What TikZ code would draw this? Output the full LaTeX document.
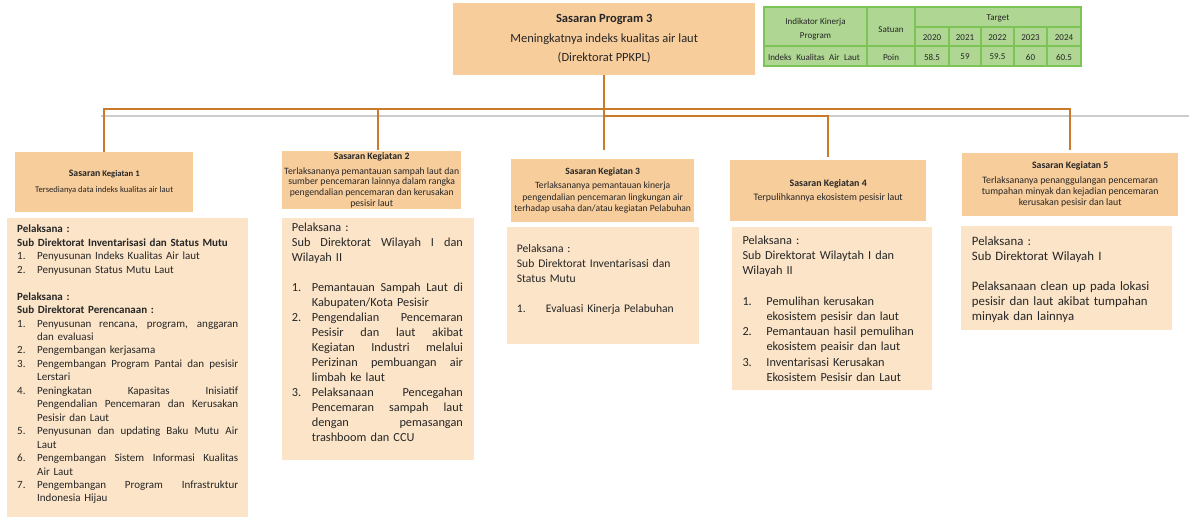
\documentclass[tikz,border=0pt]{standalone}
\usepackage{fontspec}
\setmainfont{Carlito}
\usetikzlibrary{calc}

\definecolor{peach}{HTML}{F8CD9C}
\definecolor{cream}{HTML}{FBE4C8}
\definecolor{wire}{HTML}{CB7A2A}
\definecolor{rulegray}{HTML}{CCCCCC}
\definecolor{tfill}{HTML}{AFD693}
\definecolor{tline}{HTML}{7CC456}
\definecolor{ink}{HTML}{262626}

\newcommand\setfs[2]{\fontsize{#1bp}{#2bp}\selectfont}
\newcommand\numb[2]{\makebox[#1][l]{#2}}
% a justified line: word spaces stretch to fill the given width
\newcommand\jline[2]{\makebox[#1][s]{\spaceskip=0.226em plus 1fil\relax #2}}

\tikzset{
  goal/.style={fill=peach, inner sep=0pt, align=center, anchor=north west, text=ink},
  panel/.style={fill=cream, inner sep=0pt, anchor=north west},
  body/.style={inner sep=0pt, anchor=north west, align=left, text=ink},
  wire/.style={draw=wire, line width=2.2bp},
  cell/.style={inner sep=0pt, text=ink, font=\setfs{9}{14}, align=center},
}

\begin{document}
\begin{tikzpicture}[x=1bp, y=-1bp]
\useasboundingbox (0,0) rectangle (1189,517);

% program goal
\node[goal, minimum width=302bp, minimum height=72bp, font=\setfs{12.5}{19.5}]
  (top) at (453,3)
  {\textbf{Sasaran Program 3}\\ Meningkatnya indeks kualitas air laut\\ (Direktorat PPKPL)};

% indicator table
\fill[tfill] (764,7) rectangle (1081,66);
\draw[tline, line width=1.5bp]
  (764,7) rectangle (1081,66)
  (764,46) -- (1081,46)
  (915,27) -- (1081,27)
  (867,7) -- (867,66) (915,7) -- (915,66)
  (949,27) -- (949,66) (981,27) -- (981,66)
  (1014,27) -- (1014,66) (1047,27) -- (1047,66);
\node[cell] (tind) at (815.5,29) {Indikator Kinerja\\ Program};
\node[cell] (tsat) at (891,29.5) {Satuan};
\node[cell] (ttar) at (998,18) {Target};
\node[cell] (ty1) at (932,38) {2020};
\node[cell] (ty2) at (965,38) {2021};
\node[cell] (ty3) at (997.5,38) {2022};
\node[cell] (ty4) at (1030.5,38) {2023};
\node[cell] (ty5) at (1064,38) {2024};
\node[cell] (tname) at (814,57) {\makebox[92bp][s]{Indeks Kualitas Air Laut}};
\node[cell] (tunit) at (891,57) {Poin};
\node[cell] (tv1) at (932,57) {58.5};
\node[cell] (tv2) at (965,57) {59};
\node[cell] (tv3) at (997.5,57) {59.5};
\node[cell] (tv4) at (1030.5,57) {60};
\node[cell] (tv5) at (1064,57) {60.5};

% activity goals
\node[goal, minimum width=178bp, minimum height=60bp, font=\setfs{8.6}{15.5}]
  (sk1) at (15,152)
  {{\setfs{9.8}{15.5}\bfseries Sasaran} {\bfseries Kegiatan 1}\\ Tersedianya data indeks kualitas air laut};
\node[goal, minimum width=179bp, minimum height=58bp, font=\setfs{9.7}{10.7}]
  (sk2) at (282,151)
  {\textbf{Sasaran Kegiatan 2}\\[4bp] Terlaksananya pemantauan sampah laut dan\\ sumber pencemaran lainnya dalam rangka\\ pengendalian pencemaran dan kerusakan\\ pesisir laut};
\node[goal, minimum width=183bp, minimum height=63bp, font=\setfs{9.6}{11.5}]
  (sk3) at (511,159)
  {\textbf{Sasaran Kegiatan 3}\\[3bp] Terlaksananya pemantauan kinerja\\ pengendalian pencemaran lingkungan air\\ terhadap usaha dan/atau kegiatan Pelabuhan};
\node[goal, minimum width=196bp, minimum height=61bp, font=\setfs{9.9}{14.5}]
  (sk4) at (730,160)
  {\textbf{Sasaran Kegiatan 4}\\ Terpulihkannya ekosistem pesisir laut};
\node[goal, minimum width=216bp, minimum height=63bp, font=\setfs{9.8}{11}]
  (sk5) at (962,153)
  {\textbf{Sasaran Kegiatan 5}\\[4bp] Terlaksananya penanggulangan pencemaran\\ tumpahan minyak dan kejadian pencemaran\\ kerusakan pesisir dan laut};

% executing units
\node[panel, minimum width=241bp, minimum height=299bp] (p1) at (7,218) {};
\node[panel, minimum width=192bp, minimum height=242bp] (p2) at (282,218) {};
\node[panel, minimum width=192bp, minimum height=117bp] (p3) at (507,227) {};
\node[panel, minimum width=200bp, minimum height=163bp] (p4) at (732,227) {};
\node[panel, minimum width=211bp, minimum height=104bp] (p5) at (961,226) {};

\node[body, text width=221bp, font=\setfs{11}{13.45}] (p1t) at (17,225) {%
\textbf{Pelaksana :}\\
\textbf{Sub Direktorat Inventarisasi dan Status Mutu}\\
\numb{20bp}{1.}Penyusunan Indeks Kualitas Air laut\\
\numb{20bp}{2.}Penyusunan Status Mutu Laut\\[13.45bp]
\textbf{Pelaksana :}\\
\textbf{Sub Direktorat Perencanaan :}\\
\numb{20bp}{1.}\jline{201bp}{Penyusunan rencana, program, anggaran}\\
\hspace*{20bp}dan evaluasi\\
\numb{20bp}{2.}Pengembangan kerjasama\\
\numb{20bp}{3.}\jline{201bp}{Pengembangan Program Pantai dan pesisir}\\
\hspace*{20bp}Lerstari\\
\numb{20bp}{4.}\jline{201bp}{Peningkatan Kapasitas Inisiatif}\\
\hspace*{20bp}\jline{201bp}{Pengendalian Pencemaran dan Kerusakan}\\
\hspace*{20bp}Pesisir dan Laut\\
\numb{20bp}{5.}\jline{201bp}{Penyusunan dan updating Baku Mutu Air}\\
\hspace*{20bp}Laut\\
\numb{20bp}{6.}\jline{201bp}{Pengembangan Sistem Informasi Kualitas}\\
\hspace*{20bp}Air Laut\\
\numb{20bp}{7.}\jline{201bp}{Pengembangan Program Infrastruktur}\\
\hspace*{20bp}Indonesia Hijau};

\node[body, text width=171bp, font=\setfs{12.3}{15}] (p2t) at (291.7,222.5) {%
Pelaksana :\\
\jline{171bp}{Sub Direktorat Wilayah I dan}\\
Wilayah II\\[15bp]
\numb{20bp}{1.}\jline{151bp}{Pemantauan Sampah Laut di}\\
\hspace*{20bp}Kabupaten/Kota Pesisir\\
\numb{20bp}{2.}\jline{151bp}{Pengendalian Pencemaran}\\
\hspace*{20bp}\jline{151bp}{Pesisir dan laut akibat}\\
\hspace*{20bp}\jline{151bp}{Kegiatan Industri melalui}\\
\hspace*{20bp}\jline{151bp}{Perizinan pembuangan air}\\
\hspace*{20bp}limbah ke laut\\
\numb{20bp}{3.}\jline{151bp}{Pelaksanaan Pencegahan}\\
\hspace*{20bp}\jline{151bp}{Pencemaran sampah laut}\\
\hspace*{20bp}\jline{151bp}{dengan pemasangan}\\
\hspace*{20bp}trashboom dan CCU};

\node[body, text width=180bp, font=\setfs{11.6}{15}] (p3t) at (516.7,244.2) {%
Pelaksana :\\
Sub Direktorat Inventarisasi dan\\
Status Mutu\\[15bp]
\numb{29bp}{1.}Evaluasi Kinerja Pelabuhan};

\node[body, text width=185bp, font=\setfs{12.3}{15.25}] (p4t) at (742.3,235.5) {%
Pelaksana :\\
Sub Direktorat Wilaytah I dan\\
Wilayah II\\[15.25bp]
\numb{24bp}{1.}Pemulihan kerusakan\\
\hspace*{24bp}ekosistem pesisir dan laut\\
\numb{24bp}{2.}Pemantauan hasil pemulihan\\
\hspace*{24bp}ekosistem peaisir dan laut\\
\numb{24bp}{3.}Inventarisasi Kerusakan\\
\hspace*{24bp}Ekosistem Pesisir dan Laut};

\node[body, text width=200bp, font=\setfs{12.8}{15}] (p5t) at (971.7,236) {%
Pelaksana :\\
Sub Direktorat Wilayah I\\[15bp]
Pelaksanaan clean up pada lokasi\\
pesisir dan laut akibat tumpahan\\
minyak dan lainnya};

% horizontal rule behind the tree
\draw[rulegray, line width=2bp] (101,116) -- (1189,116);

% connectors
\draw[wire] (top.south) -- ++(0,34) -| (sk1.north);
\draw[wire, shorten >=1bp] (top.south) -- ++(0,34) -| ([xshift=6.5bp]sk2.north);
\draw[wire, shorten >=9bp] (top.south) -- (top.south |- sk3.north);
\draw[wire, shorten >=3bp] (top.south) -- ++(0,41) -| (sk4.north);
\draw[wire, shorten >=3bp] (top.south) -- ++(0,34) -| (sk5.north);
\end{tikzpicture}
\end{document}
